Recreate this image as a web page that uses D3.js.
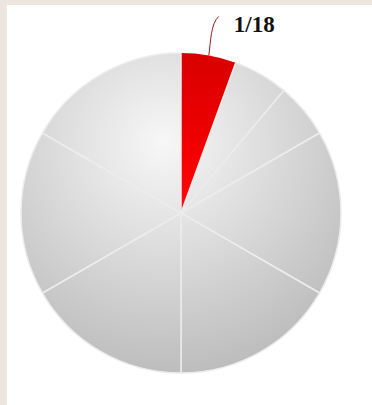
<!DOCTYPE html>
<html>
<head>
<meta charset="utf-8">
<script src="https://cdn.jsdelivr.net/npm/d3@7"></script>
<style>
  html, body { margin: 0; padding: 0; background: #ffffff; }
  svg { display: block; }
</style>
</head>
<body>
<svg id="chart"></svg>
<script>
// slice shares (in eighteenths), clockwise from 12 o'clock
const slices = ['a', 'b', 'c', 'd', 'e', 'f', 'g', 'h'];
const shares = [1, 1, 1, 3, 3, 3, 3, 3];
const labels = ['1/18', '', '', '', '', '', '', ''];
const highlight = [true, false, false, false, false, false, false, false];

const width = 372, height = 405;
const cx = 181, cy = 213, radius = 160;

const svg = d3.select('#chart')
    .attr('width', width)
    .attr('height', height);

// beige frame on left and top
svg.append('rect').attr('width', width).attr('height', height).attr('fill', '#ede6de');
svg.append('rect').attr('x', 7).attr('y', 5).attr('width', width - 7).attr('height', height - 5).attr('fill', '#ffffff');

const g = svg.append('g').attr('transform', `translate(${cx}, ${cy})`);

// gradients in the group's coordinates (centre of pie = 0,0)
const defs = svg.append('defs');
const grey = defs.append('radialGradient')
    .attr('id', 'greyGrad')
    .attr('gradientUnits', 'userSpaceOnUse')
    .attr('cx', -18).attr('cy', -70).attr('r', 250);
grey.append('stop').attr('offset', '0%').attr('stop-color', '#f7f7f7');
grey.append('stop').attr('offset', '100%').attr('stop-color', '#b8b8b8');

const red = defs.append('linearGradient')
    .attr('id', 'redGrad')
    .attr('gradientUnits', 'userSpaceOnUse')
    .attr('x1', 0).attr('y1', -radius).attr('x2', 0).attr('y2', 0);
red.append('stop').attr('offset', '0%').attr('stop-color', '#d80000');
red.append('stop').attr('offset', '60%').attr('stop-color', '#f20000');
red.append('stop').attr('offset', '100%').attr('stop-color', '#ff0a0a');

const data = slices.map((s, i) => ({ key: s, value: shares[i], label: labels[i], hi: highlight[i] }));

const pie = d3.pie().sort(null).value(d => d.value);
const arc = d3.arc().innerRadius(0).outerRadius(radius);
const arcs = pie(data);

g.selectAll('path.slice')
    .data(arcs)
    .join('path')
    .attr('class', 'slice')
    .attr('d', arc)
    .style('fill', d => d.data.hi ? 'url(#redGrad)' : 'url(#greyGrad)')
    .attr('stroke', d => d.data.hi ? 'none' : '#ececec')
    .attr('stroke-width', 1.5)
    .attr('stroke-linejoin', 'round');

// leader line and label for the highlighted slice
arcs.filter(d => d.data.label).forEach(d => {
    const mid = (d.startAngle + d.endAngle) / 2;
    const [px, py] = [Math.sin(mid) * radius, -Math.cos(mid) * radius];
    const path = d3.path();
    path.moveTo(px, py);
    path.bezierCurveTo(px + 2, py - 14, px + 2, py - 32, px + 10, py - 39);
    g.append('path')
        .attr('d', path.toString())
        .attr('fill', 'none')
        .attr('stroke', '#9b1a1a')
        .attr('stroke-width', 1);
    g.append('text')
        .attr('x', px + 25)
        .attr('y', py - 23)
        .attr('font-family', '"Liberation Serif", "Times New Roman", serif')
        .attr('font-weight', 'bold')
        .attr('font-size', '23px')
        .attr('fill', '#111')
        .text(d.data.label);
});
</script>
</body>
</html>
